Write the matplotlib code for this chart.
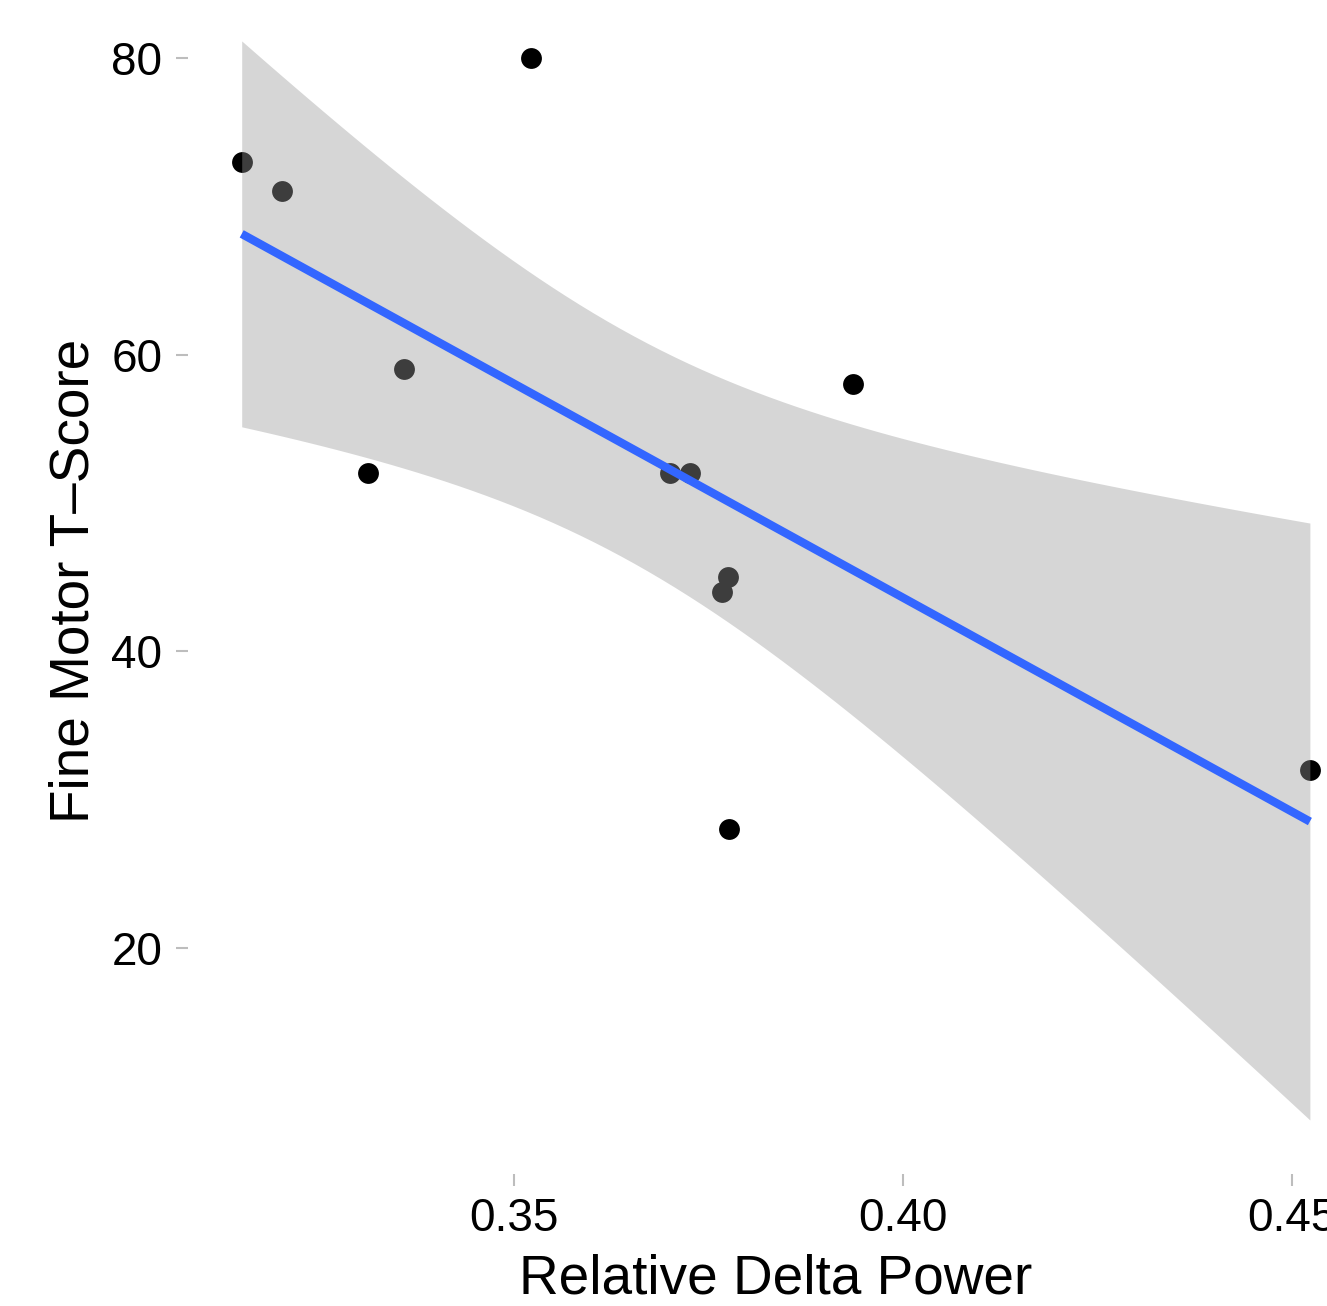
import numpy as np
import matplotlib
matplotlib.use("Agg")
import matplotlib.pyplot as plt

plt.rcParams['font.family'] = ['Liberation Sans', 'DejaVu Sans']

# Data
delta_power = [0.3150, 0.3202, 0.3522, 0.3359, 0.3312, 0.3701,
               0.3726, 0.3775, 0.3767, 0.3776, 0.3936, 0.4523]
fine_motor = [73, 71, 80, 59, 52, 52, 52, 45, 44, 28, 58, 32]
x_ticks = [0.35, 0.40, 0.45]
x_tick_labels = ["0.35", "0.40", "0.45"]
y_ticks = [20, 40, 60, 80]
y_tick_labels = ["20", "40", "60", "80"]

x = np.array(delta_power)
y = np.array(fine_motor, dtype=float)

# linear model with 95% confidence band (like geom_smooth(method="lm"))
n = len(x)
b1, b0 = np.polyfit(x, y, 1)
resid = y - (b0 + b1 * x)
s = np.sqrt(np.sum(resid ** 2) / (n - 2))
t_crit = 2.2281  # t(0.975, df=10)
xg = np.linspace(x.min(), x.max(), 80)
yg = b0 + b1 * xg
se = s * np.sqrt(1.0 / n + (xg - x.mean()) ** 2 / np.sum((x - x.mean()) ** 2))
lo = yg - t_crit * se
hi = yg + t_crit * se

W, H = 1327, 1306
fig = plt.figure(figsize=(W / 100, H / 100), dpi=100)

# limits with ggplot-like 5% expansion
xr = x.max() - x.min()
xlim = (x.min() - 0.05 * xr, x.max() + 0.05 * xr)
ymin_d = min(y.min(), lo.min())
ymax_d = max(y.max(), hi.max())
yr = ymax_d - ymin_d
ylim = (ymin_d - 0.05 * yr, ymax_d + 0.05 * yr)

# pixel scale measured on the reference
px_per_x = 7780.0
px_per_y = 14.83
x_ref_val, x_ref_px = 0.35, 514.0
y_ref_val, y_ref_px = 80.0, 58.0
left_px = x_ref_px + (xlim[0] - x_ref_val) * px_per_x
right_px = x_ref_px + (xlim[1] - x_ref_val) * px_per_x
top_px = y_ref_px - (ylim[1] - y_ref_val) * px_per_y
bottom_px = y_ref_px + (y_ref_val - ylim[0]) * px_per_y

ax = fig.add_axes([left_px / W, 1 - bottom_px / H,
                   (right_px - left_px) / W, (bottom_px - top_px) / H])
ax.set_xlim(*xlim)
ax.set_ylim(*ylim)

ax.scatter(x, y, s=225, color='black', linewidths=0, zorder=2)
ax.fill_between(xg, lo, hi, color='#999999', alpha=0.4, linewidth=0, zorder=3)
ax.plot(xg, yg, color='#3366FF', lw=6, solid_capstyle='butt', zorder=4)

for sp in ax.spines.values():
    sp.set_visible(False)
ax.set_facecolor('white')

ax.set_xticks(x_ticks)
ax.set_xticklabels(x_tick_labels)
ax.set_yticks(y_ticks)
ax.set_yticklabels(y_tick_labels)
ax.tick_params(axis='both', length=8.6, width=1.5, color='#BDBDBD',
               labelsize=33, labelcolor='black', direction='out')
ax.tick_params(axis='y', pad=10)
ax.tick_params(axis='x', pad=8)

ax.set_xlabel('Relative Delta Power', fontsize=39.5, labelpad=9)
ax.set_ylabel('Fine Motor T\u2013Score', fontsize=39.5, labelpad=8)

fig.savefig('out.png', dpi=100, facecolor='white')
